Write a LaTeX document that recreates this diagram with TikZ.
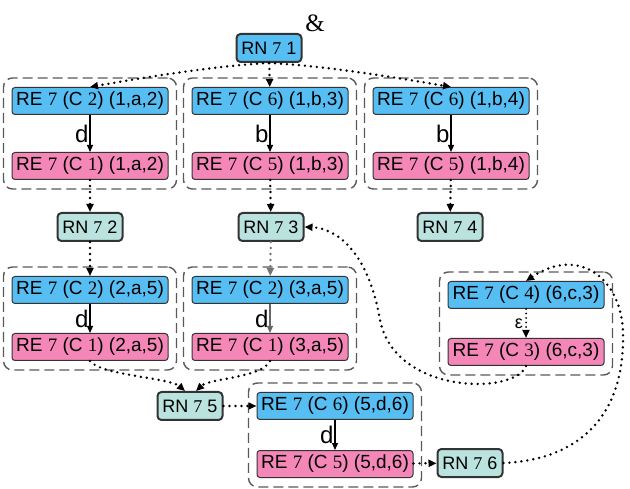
\documentclass[tikz,border=0pt]{standalone}
\usepackage{fontspec}
\setmainfont{Liberation Sans}
\newfontfamily\digitfont{Liberation Serif}
\usetikzlibrary{fit,arrows.meta}

\definecolor{reblue}{RGB}{86,190,242}
\definecolor{repink}{RGB}{244,134,184}
\definecolor{rnteal}{RGB}{186,226,222}

\newcommand\sd[1]{{\digitfont #1}}
\newcommand\retext[2]{RE \sd{7} (C \sd{#1}) (#2)}
\newcommand\rntext[1]{RN \sd{7} #1}

\tikzset{
  rebox/.style={draw=black!80, line width=1pt, rounded corners=3pt,
    minimum width=156pt, minimum height=27pt, inner sep=1pt,
    font=\fontsize{19}{21}\selectfont},
  bluebox/.style={rebox, fill=reblue},
  pinkbox/.style={rebox, fill=repink},
  rnbox/.style={rebox, fill=rnteal, line width=2pt, rounded corners=4pt,
    minimum width=65pt, minimum height=28pt, font=\fontsize{18}{20}\selectfont},
  group/.style={draw=black!65, line width=1.4pt, dash pattern=on 10pt off 5pt,
    rounded corners=9pt, inner xsep=8pt, inner ysep=9pt},
  trans/.style={-{Triangle[length=7pt,width=6pt]}, line width=1.2pt},
  dots/.style={-{Triangle[length=8pt,width=7pt]}, line width=2.7pt,
    line cap=round, dash pattern=on 0pt off 6pt},
  lbl/.style={font=\fontsize{24}{24}\selectfont, inner sep=1pt},
}

\begin{document}
\begin{tikzpicture}[x=1pt,y=-1pt]
\useasboundingbox (0,0) rectangle (630,489);

\node[rnbox, fill=reblue] (rn1) at (269,48) {\rntext{1}};
\node[font=\digitfont\fontsize{25}{25}\selectfont] (amp) at (315,23) {\&};

% first row of pairs
\node[bluebox] (b1a2) at (90,101) {\retext{2}{1,a,2}};
\node[pinkbox] (p1a2) at (90,166) {\retext{1}{1,a,2}};
\node[bluebox] (b1b3) at (270,101) {\retext{6}{1,b,3}};
\node[pinkbox] (p1b3) at (270,166) {\retext{5}{1,b,3}};
\node[bluebox] (b1b4) at (451,101) {\retext{6}{1,b,4}};
\node[pinkbox] (p1b4) at (451,166) {\retext{5}{1,b,4}};

\node[rnbox] (rn2) at (90,227) {\rntext{2}};
\node[rnbox] (rn3) at (271,227) {\rntext{3}};
\node[rnbox] (rn4) at (450,227) {\rntext{4}};

% second row
\node[bluebox] (b2a5) at (90,290) {\retext{2}{2,a,5}};
\node[pinkbox] (p2a5) at (90,347) {\retext{1}{2,a,5}};
\node[bluebox] (b3a5) at (270,290) {\retext{2}{3,a,5}};
\node[pinkbox] (p3a5) at (270,347) {\retext{1}{3,a,5}};
\node[bluebox] (b6c3) at (526,295) {\retext{4}{6,c,3}};
\node[pinkbox] (p6c3) at (526,352) {\retext{3}{6,c,3}};

% bottom
\node[rnbox] (rn5) at (190,406) {\rntext{5}};
\node[bluebox] (b5d6) at (335,406) {\retext{6}{5,d,6}};
\node[pinkbox] (p5d6) at (335,464) {\retext{5}{5,d,6}};
\node[rnbox] (rn6) at (470,463) {\rntext{6}};

% dashed frames round each pair
\node[group, fit=(b1a2)(p1a2)] (g1) {};
\node[group, fit=(b1b3)(p1b3)] (g2) {};
\node[group, fit=(b1b4)(p1b4)] (g3) {};
\node[group, fit=(b2a5)(p2a5)] (g4) {};
\node[group, fit=(b3a5)(p3a5)] (g5) {};
\node[group, fit=(b6c3)(p6c3)] (g6) {};
\node[group, fit=(b5d6)(p5d6)] (g7) {};

% labelled steps
\draw[trans] (b1a2) -- node[left, lbl] {d} (p1a2);
\draw[trans] (b1b3) -- node[left, lbl] {b} (p1b3);
\draw[trans] (b1b4) -- node[left, lbl] {b} (p1b4);
\draw[trans] (b2a5) -- node[left, lbl] {d} (p2a5);
\draw[trans, black!60] (b3a5) -- node[left, lbl, black] {d} (p3a5);
\draw[trans] (b5d6) -- node[left, lbl] {d} (p5d6);
\draw[dots, line width=2pt, dash pattern=on 0pt off 4.5pt] (b6c3) --
  node[left, inner sep=2pt, font=\fontsize{18}{18}\selectfont] {ε} (p6c3);

% dotted links
\draw[dots] (rn1.south) .. controls (210,66) and (130,80) .. (b1a2.north);
\draw[dots] (rn1) -- (b1b3);
\draw[dots] (rn1.south) .. controls (330,66) and (410,80) .. (b1b4.north);
\draw[dots] (p1a2) -- (rn2);
\draw[dots] (p1b3) -- (rn3);
\draw[dots] (p1b4) -- (rn4);
\draw[dots] (rn2) -- (b2a5);
\draw[dots, black!55] (rn3) -- (b3a5);
\draw[dots] (p2a5.south) .. controls (100,375) and (170,378) .. ([xshift=-5pt]rn5.north);
\draw[dots] (p3a5.south) .. controls (262,378) and (210,378) .. ([xshift=6pt]rn5.north);
\draw[dots] (rn5) -- (b5d6);
\draw[dots] (p5d6) -- (rn6);
\draw[dots] (rn6.east) .. controls (575,460) and (625,420) .. (623,333)
  .. controls (622,280) and (580,245) .. (b6c3.north);
\draw[dots] (p6c3.south) .. controls (515,395) and (395,395) .. (380,320)
  .. controls (368,250) and (335,228) .. (rn3.east);
\end{tikzpicture}
\end{document}
